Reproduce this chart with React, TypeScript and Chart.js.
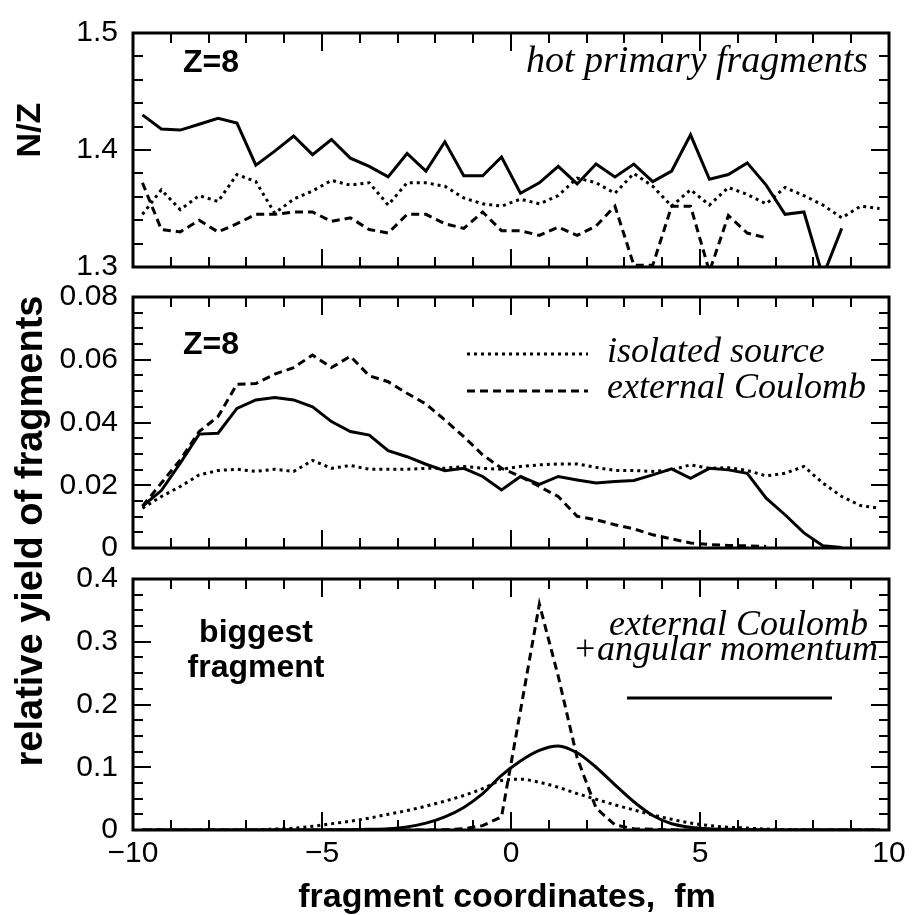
import React, { useEffect, useRef } from 'react';
import { Chart, registerables } from 'chart.js';

Chart.register(...registerables);

// ---------- data ----------
const X_POS = [
  -9.75, -9.25, -8.75, -8.25, -7.75, -7.25, -6.75, -6.25, -5.75, -5.25,
  -4.75, -4.25, -3.75, -3.25, -2.75, -2.25, -1.75, -1.25, -0.75, -0.25,
  0.25, 0.75, 1.25, 1.75, 2.25, 2.75, 3.25, 3.75, 4.25, 4.75,
  5.25, 5.75, 6.25, 6.75, 7.25, 7.75, 8.25, 8.75, 9.25, 9.75,
];

// top panel: N/Z of hot primary fragments, Z=8
const NZ_ANGULAR = [
  1.430, 1.418, 1.417, 1.422, 1.427, 1.423, 1.387, 1.399, 1.412, 1.396,
  1.409, 1.393, 1.386, 1.377, 1.397, 1.382, 1.407, 1.378, 1.378, 1.394,
  1.363, 1.372, 1.386, 1.371, 1.388, 1.377, 1.388, 1.373, 1.382, 1.413,
  1.375, 1.379, 1.389, 1.370, 1.345, 1.347, 1.292, 1.333, null, null,
];
const NZ_ISOLATED = [
  1.345, 1.366, 1.349, 1.361, 1.356, 1.379, 1.373, 1.346, 1.358, 1.365,
  1.374, 1.370, 1.372, 1.353, 1.372, 1.372, 1.369, 1.359, 1.354, 1.352,
  1.358, 1.354, 1.361, 1.376, 1.372, 1.363, 1.380, 1.369, 1.352, 1.366,
  1.353, 1.368, 1.362, 1.354, 1.368, 1.361, 1.353, 1.342, 1.352, 1.350,
];
const NZ_COULOMB = [
  1.372, 1.332, 1.330, 1.340, 1.330, 1.337, 1.345, 1.345, 1.347, 1.347,
  1.339, 1.342, 1.332, 1.329, 1.345, 1.345, 1.337, 1.333, 1.347, 1.331,
  1.331, 1.327, 1.334, 1.327, 1.335, 1.352, 1.3015, 1.3015, 1.352, 1.352,
  1.296, 1.344, 1.329, 1.325, null, null, null, null, null, null,
];

// middle panel: relative yield, Z=8
const Z8_ANGULAR = [
  0.0133, 0.0183, 0.0270, 0.0363, 0.0366, 0.0445, 0.0472, 0.0480, 0.0472, 0.0450,
  0.0403, 0.0371, 0.0360, 0.0310, 0.0291, 0.0267, 0.0246, 0.0254, 0.0228, 0.0185,
  0.0228, 0.0203, 0.0228, 0.0217, 0.0207, 0.0212, 0.0215, 0.0233, 0.0252, 0.0222,
  0.0254, 0.0249, 0.0238, 0.0159, 0.0106, 0.0048, 0.0007, 0.0002, null, null,
];
const Z8_ISOLATED = [
  0.0127, 0.0164, 0.0196, 0.0233, 0.0247, 0.0251, 0.0244, 0.0251, 0.0244, 0.0279,
  0.0254, 0.0263, 0.0251, 0.0251, 0.0251, 0.0254, 0.0254, 0.0260, 0.0254, 0.0251,
  0.0260, 0.0265, 0.0268, 0.0268, 0.0257, 0.0247, 0.0247, 0.0244, 0.0249, 0.0265,
  0.0254, 0.0256, 0.0247, 0.0230, 0.0238, 0.0260, 0.0207, 0.0164, 0.0135, 0.0127,
];
const Z8_COULOMB = [
  0.0133, 0.0207, 0.0281, 0.0371, 0.0419, 0.0522, 0.0524, 0.0554, 0.0575, 0.0615,
  0.0575, 0.0611, 0.0549, 0.0530, 0.0493, 0.0459, 0.0408, 0.0355, 0.0297, 0.0254,
  0.0228, 0.0196, 0.0164, 0.0101, 0.0090, 0.0074, 0.0061, 0.0042, 0.0029, 0.0016,
  0.0011, 0.0008, 0.0007, 0.0005, null, null, null, null, null, null,
];

// bottom panel: relative yield, biggest fragment
const BIG_ANGULAR = [
  0, 0, 0, 0, 0, 0, 0, 0, 0, 0,
  0.0002, 0.0004, 0.001, 0.002, 0.005, 0.011, 0.021, 0.036, 0.058, 0.087,
  0.110, 0.127, 0.134, 0.123, 0.100, 0.072, 0.045, 0.023, 0.010, 0.0045,
  0.002, 0.001, 0.0005, 0.0002, 0, 0, 0, 0, 0, 0,
];
const BIG_ISOLATED = [
  0, 0, 0, 0, 0, 0, 0.0005, 0.0015, 0.003, 0.006,
  0.010, 0.014, 0.019, 0.025, 0.031, 0.038, 0.046, 0.055, 0.066, 0.079,
  0.081, 0.076, 0.068, 0.058, 0.049, 0.040, 0.032, 0.024, 0.017, 0.011,
  0.007, 0.0045, 0.003, 0.0015, 0.0007, 0.0003, 0, 0, 0, 0,
];
const BIG_COULOMB = [
  0, 0, 0, 0, 0, 0, 0, 0, 0, 0,
  0, 0, 0, 0, 0, 0, 0.0005, 0.002, 0.007, 0.021,
  0.19, 0.36, 0.245, 0.115, 0.035, 0.008, 0.002, 0.001, 0.0003, 0,
  0, 0, 0, 0, 0, 0, 0, 0, 0, 0,
];

const X_TICKS = { min: -10, max: 10, step: 5, minor: 1 };
const Y_TOP = { min: 1.3, max: 1.5, step: 0.1, minor: 0.02 };
const Y_MID = { min: 0, max: 0.08, step: 0.02, minor: 0.005 };
const Y_BOT = { min: 0, max: 0.4, step: 0.1, minor: 0.025 };

// ---------- styles ----------
const W = 912;
const H = 915;
const PLOT_LEFT = 133;
const PLOT_RIGHT = 889;
const DOTTED = [3, 4];
const DASHED = [8, 5];
const SANS = '"Liberation Sans", Arial, Helvetica, sans-serif';
const SERIF = '"Liberation Serif", "Times New Roman", serif';
const TICK_FONT = 30;

type Series = { values: (number | null)[]; dash: number[]; smooth?: boolean };
type Panel = {
  top: number;
  bottom: number;
  y: { min: number; max: number; step: number; minor: number };
  fmt: (v: number) => string;
  series: Series[];
};

const PANELS: Panel[] = [
  {
    top: 15, bottom: 267, y: Y_TOP,
    fmt: (v) => v.toFixed(1),
    series: [
      { values: NZ_ISOLATED, dash: DOTTED },
      { values: NZ_COULOMB, dash: DASHED },
      { values: NZ_ANGULAR, dash: [] },
    ],
  },
  {
    top: 297, bottom: 548, y: Y_MID,
    fmt: (v) => (Math.abs(v) < 1e-9 ? '0' : v.toFixed(2)),
    series: [
      { values: Z8_ISOLATED, dash: DOTTED },
      { values: Z8_COULOMB, dash: DASHED },
      { values: Z8_ANGULAR, dash: [] },
    ],
  },
  {
    top: 579, bottom: 830, y: Y_BOT,
    fmt: (v) => (Math.abs(v) < 1e-9 ? '0' : v.toFixed(1)),
    series: [
      { values: BIG_ISOLATED, dash: DOTTED, smooth: true },
      { values: BIG_COULOMB, dash: DASHED },
      { values: BIG_ANGULAR, dash: [], smooth: true },
    ],
  },
];

function isMultiple(v: number, step: number) {
  const r = v / step;
  return Math.abs(r - Math.round(r)) < 1e-6;
}

function framePlugin(p: Panel) {
  return {
    id: 'frameTicks',
    afterDatasetsDraw(chart: any) {
      const { ctx, chartArea: a, scales } = chart;
      const xs = scales.x;
      const ys = scales.y;
      ctx.save();
      ctx.strokeStyle = '#000';
      ctx.lineWidth = 2;
      ctx.setLineDash([]);
      ctx.beginPath();
      const nx = Math.round((X_TICKS.max - X_TICKS.min) / X_TICKS.minor);
      for (let i = 1; i < nx; i++) {
        const v = X_TICKS.min + i * X_TICKS.minor;
        const px = Math.round(xs.getPixelForValue(v));
        const len = isMultiple(v, X_TICKS.step) ? 18 : 10;
        ctx.moveTo(px, a.top);
        ctx.lineTo(px, a.top + len);
        ctx.moveTo(px, a.bottom);
        ctx.lineTo(px, a.bottom - len);
      }
      const ny = Math.round((p.y.max - p.y.min) / p.y.minor);
      for (let i = 1; i < ny; i++) {
        const v = p.y.min + i * p.y.minor;
        const py = Math.round(ys.getPixelForValue(v));
        const len = isMultiple(i * p.y.minor, p.y.step) ? 18 : 10;
        ctx.moveTo(a.left, py);
        ctx.lineTo(a.left + len, py);
        ctx.moveTo(a.right, py);
        ctx.lineTo(a.right - len, py);
      }
      ctx.stroke();
      ctx.lineWidth = 3;
      ctx.strokeRect(a.left, a.top, a.right - a.left, a.bottom - a.top);
      ctx.restore();
    },
  };
}

function drawRotated(ctx: CanvasRenderingContext2D, text: string, x: number, y: number) {
  ctx.save();
  ctx.translate(x, y);
  ctx.rotate(-Math.PI / 2);
  ctx.textAlign = 'center';
  ctx.textBaseline = 'alphabetic';
  ctx.fillText(text, 0, 0);
  ctx.restore();
}

function sampleLine(ctx: CanvasRenderingContext2D, x1: number, x2: number, y: number, dash: number[]) {
  ctx.save();
  ctx.strokeStyle = '#000';
  ctx.lineWidth = 3;
  ctx.lineCap = 'butt';
  ctx.setLineDash(dash);
  ctx.beginPath();
  ctx.moveTo(x1, y);
  ctx.lineTo(x2, y);
  ctx.stroke();
  ctx.restore();
}

const textPlugin = {
  id: 'annotations',
  afterDraw(chart: any) {
    const ctx: CanvasRenderingContext2D = chart.ctx;
    ctx.save();
    ctx.fillStyle = '#000';
    ctx.textBaseline = 'alphabetic';

    // axis titles
    ctx.font = `bold 34px ${SANS}`;
    drawRotated(ctx, 'N/Z', 40, 130);
    ctx.font = `bold 38px ${SANS}`;
    drawRotated(ctx, 'relative yield of fragments', 42, 531);
    ctx.font = `bold 34px ${SANS}`;
    ctx.textAlign = 'center';
    ctx.fillText('fragment coordinates,  fm', 507, 907);

    // panel labels
    ctx.font = `bold 32px ${SANS}`;
    ctx.textAlign = 'left';
    ctx.fillText('Z=8', 183, 72);
    ctx.fillText('Z=8', 183, 354);
    ctx.textAlign = 'center';
    ctx.fillText('biggest', 256, 642);
    ctx.fillText('fragment', 256, 677);

    ctx.font = `italic 38px ${SERIF}`;
    ctx.textAlign = 'right';
    ctx.fillText('hot primary fragments', 868, 72);

    ctx.font = `italic 36px ${SERIF}`;
    ctx.textAlign = 'left';
    ctx.fillText('isolated source', 607, 362);
    ctx.fillText('external Coulomb', 607, 398);
    ctx.textAlign = 'right';
    ctx.fillText('external Coulomb', 868, 635);
    ctx.fillText('+angular momentum', 878, 660);
    ctx.restore();

    sampleLine(ctx, 467, 588, 354, DOTTED);
    sampleLine(ctx, 467, 588, 391, DASHED);
    sampleLine(ctx, 627, 832, 698, []);
  },
};

function makeConfig(p: Panel, showX: boolean): any {
  const xScale: any = {
    type: 'linear',
    min: X_TICKS.min,
    max: X_TICKS.max,
    display: showX,
    grid: { display: false, drawTicks: false },
    border: { display: false },
    ticks: {
      stepSize: X_TICKS.step,
      padding: 6,
      autoSkip: false,
      maxRotation: 0,
      color: '#000',
      font: { family: SANS, size: TICK_FONT },
      callback: (v: number) => (v < 0 ? '\u2212' + Math.abs(v) : String(v)),
    },
  };
  if (showX) {
    xScale.afterFit = (s: any) => {
      s.height = H - p.bottom;
    };
  }
  return {
    type: 'line',
    data: {
      datasets: p.series.map((s) => ({
        data: X_POS.map((x, i) => ({ x, y: s.values[i] })).filter((d) => d.y !== null),
        borderColor: '#000',
        borderWidth: 3,
        borderDash: s.dash,
        borderCapStyle: 'butt',
        borderJoinStyle: 'miter',
        pointRadius: 0,
        fill: false,
        tension: s.smooth ? 0.4 : 0,
        cubicInterpolationMode: s.smooth ? 'monotone' : 'default',
        clip: 0,
      })),
    },
    options: {
      animation: false,
      responsive: false,
      devicePixelRatio: 1,
      events: [],
      layout: {
        padding: { top: p.top, bottom: showX ? 0 : H - p.bottom, left: 0, right: W - PLOT_RIGHT },
      },
      plugins: { legend: { display: false }, tooltip: { enabled: false }, title: { display: false } },
      scales: {
        x: xScale,
        y: {
          type: 'linear',
          min: p.y.min,
          max: p.y.max,
          grid: { display: false, drawTicks: false },
          border: { display: false },
          ticks: {
            stepSize: p.y.step,
            padding: 15,
            color: '#000',
            font: { family: SANS, size: TICK_FONT },
            callback: (v: number) => p.fmt(v),
          },
          afterFit: (s: any) => {
            s.width = PLOT_LEFT;
          },
        },
      },
    },
    plugins: showX ? [framePlugin(p), textPlugin] : [framePlugin(p)],
  };
}

export default function App() {
  const r0 = useRef<HTMLCanvasElement>(null);
  const r1 = useRef<HTMLCanvasElement>(null);
  const r2 = useRef<HTMLCanvasElement>(null);
  const refs = [r0, r1, r2];

  useEffect(() => {
    const charts = PANELS.map((p, i) => new Chart(refs[i].current as HTMLCanvasElement, makeConfig(p, i === 2)));
    return () => charts.forEach((c) => c.destroy());
  }, []);

  return (
    <div style={{ position: 'absolute', left: 0, top: 0, width: W, height: H, background: '#fff' }}>
      {refs.map((r, i) => (
        <canvas
          key={i}
          ref={r}
          width={W}
          height={H}
          style={{ position: 'absolute', left: 0, top: 0, width: W, height: H }}
        />
      ))}
    </div>
  );
}
